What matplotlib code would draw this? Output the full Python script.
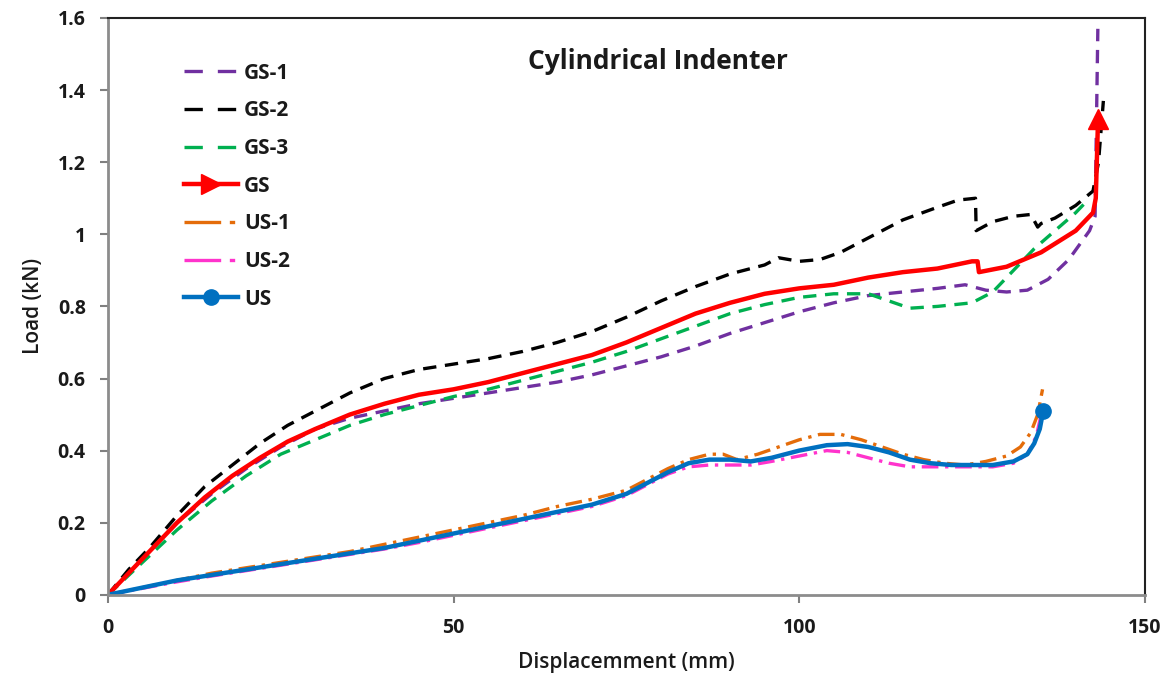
import matplotlib
matplotlib.use("Agg")
from matplotlib import pyplot as plt
from matplotlib.legend_handler import HandlerLine2D
import numpy as np

plt.rcParams['font.family'] = ['Open Sans', 'DejaVu Sans']

# GS-1
gs1_x = [0, 5, 10, 15, 20, 25, 30, 35, 40, 45, 50, 55, 60, 65, 70, 75, 80, 85, 90, 95,
         100, 105, 110, 115, 120, 124, 127, 130, 133, 136, 139, 142, 142.8, 143.2]
gs1_y = [0, 0.1, 0.2, 0.28, 0.35, 0.41, 0.46, 0.49, 0.51, 0.53, 0.545, 0.56, 0.575, 0.59,
         0.61, 0.635, 0.66, 0.69, 0.725, 0.755, 0.785, 0.81, 0.83, 0.84, 0.85, 0.86, 0.845,
         0.84, 0.845, 0.875, 0.93, 1.01, 1.05, 1.57]
# GS-2
gs2_x = [0, 3, 6, 10, 14, 18, 22, 26, 30, 35, 40, 45, 50, 55, 60, 65, 70, 75, 80, 85, 90,
         95, 97, 100, 103, 106, 110, 115, 120, 123, 125.5, 125.6, 128, 131, 133.5, 134.5,
         135, 137, 140, 142.5, 143.3, 144]
gs2_y = [0, 0.07, 0.13, 0.22, 0.3, 0.36, 0.42, 0.47, 0.51, 0.56, 0.6, 0.625, 0.64, 0.655,
         0.675, 0.7, 0.73, 0.77, 0.815, 0.855, 0.89, 0.915, 0.935, 0.925, 0.93, 0.95, 0.99,
         1.04, 1.075, 1.095, 1.10, 1.01, 1.035, 1.05, 1.055, 1.02, 1.03, 1.045, 1.08, 1.12,
         1.2, 1.37]
# GS-3
gs3_x = [0, 5, 10, 15, 20, 25, 30, 35, 40, 45, 50, 55, 60, 65, 70, 75, 80, 85, 90, 95, 100,
         105, 110, 113, 116, 120, 125, 128, 131, 134, 137, 140, 141.5]
gs3_y = [0, 0.09, 0.18, 0.26, 0.33, 0.39, 0.43, 0.47, 0.5, 0.525, 0.55, 0.57, 0.595, 0.62,
         0.645, 0.675, 0.71, 0.745, 0.78, 0.805, 0.825, 0.835, 0.835, 0.815, 0.795, 0.8,
         0.81, 0.84, 0.9, 0.96, 1.01, 1.06, 1.09]
# GS (average)
gs_x = [0, 3, 6, 10, 14, 18, 22, 26, 30, 35, 40, 45, 50, 55, 60, 65, 70, 75, 80, 85, 90,
        95, 100, 105, 110, 115, 120, 125, 125.8, 126, 130, 135, 140, 142.5, 142.9, 143.2]
gs_y = [0, 0.06, 0.12, 0.2, 0.27, 0.33, 0.38, 0.425, 0.46, 0.5, 0.53, 0.555, 0.57, 0.59,
        0.615, 0.64, 0.665, 0.7, 0.74, 0.78, 0.81, 0.835, 0.85, 0.86, 0.88, 0.895, 0.905,
        0.925, 0.925, 0.895, 0.91, 0.95, 1.01, 1.06, 1.1, 1.30]
# US-1
us1_x = [0, 5, 10, 15, 20, 25, 30, 35, 40, 45, 50, 55, 60, 65, 70, 75, 78, 81, 84, 87, 89,
         91, 94, 97, 100, 103, 106, 109, 112, 115, 118, 121, 124, 127, 130, 132, 133.5,
         134.5, 135.2]
us1_y = [0, 0.02, 0.04, 0.06, 0.075, 0.09, 0.105, 0.12, 0.14, 0.16, 0.18, 0.2, 0.22, 0.245,
         0.265, 0.29, 0.32, 0.35, 0.375, 0.39, 0.39, 0.375, 0.39, 0.41, 0.43, 0.445, 0.445,
         0.43, 0.41, 0.39, 0.375, 0.365, 0.36, 0.37, 0.385, 0.41, 0.45, 0.5, 0.57]
# US-2
us2_x = [0, 5, 10, 15, 20, 25, 30, 35, 40, 45, 50, 55, 60, 65, 70, 75, 78, 81, 84, 87, 90,
         93, 96, 100, 104, 107, 110, 113, 116, 120, 124, 128, 131, 133, 134.3, 135]
us2_y = [0, 0.018, 0.036, 0.052, 0.067, 0.082, 0.097, 0.112, 0.127, 0.145, 0.165, 0.185,
         0.205, 0.225, 0.245, 0.275, 0.305, 0.335, 0.355, 0.36, 0.36, 0.36, 0.37, 0.385, 0.4,
         0.395, 0.38, 0.365, 0.355, 0.355, 0.355, 0.355, 0.365, 0.39, 0.44, 0.5]
# US (average)
us_x = [0, 5, 10, 15, 20, 25, 30, 35, 40, 45, 50, 55, 60, 65, 70, 75, 78, 81, 84, 87, 90,
        93, 96, 100, 104, 107, 110, 113, 116, 119, 122, 125, 128, 131, 133, 134, 134.8, 135.3]
us_y = [0, 0.02, 0.04, 0.055, 0.07, 0.085, 0.1, 0.115, 0.13, 0.15, 0.17, 0.19, 0.21, 0.23,
        0.25, 0.28, 0.31, 0.34, 0.365, 0.375, 0.375, 0.37, 0.38, 0.4, 0.415, 0.418, 0.41,
        0.395, 0.375, 0.365, 0.36, 0.36, 0.36, 0.37, 0.39, 0.42, 0.46, 0.51]

x_ticks = [0, 50, 100, 150]
y_ticks = [0, 0.2, 0.4, 0.6, 0.8, 1, 1.2, 1.4, 1.6]
y_labels = ['0', '0.2', '0.4', '0.6', '0.8', '1', '1.2', '1.4', '1.6']


class EndMarkerHandler(HandlerLine2D):
    # put the legend marker at the right end of the handle
    def get_xdata(self, legend, xdescent, ydescent, width, height, fontsize):
        xdata = np.array([-xdescent, -xdescent + width])
        return xdata, np.array([-xdescent + width])


fig = plt.figure(figsize=(11.73, 6.79), dpi=100)
ax = fig.add_axes([0.092, 0.124, 0.884, 0.8495])

dash = (4, 2.6)
dashdot = (5, 2, 1, 2)
ax.plot(gs1_x, gs1_y, color='#7030A0', lw=2.4, dashes=dash)
ax.plot(gs2_x, gs2_y, color='black', lw=2.4, dashes=dash)
ax.plot(gs3_x, gs3_y, color='#00B050', lw=2.4, dashes=dash)
ax.plot(gs_x, gs_y, color='#FF0000', lw=3.2)
ax.plot(gs_x[-1], gs_y[-1] + 0.02, marker='^', ms=15, color='#FF0000', ls='none')
ax.plot(us1_x, us1_y, color='#E46C0A', lw=2.4, dashes=dashdot)
ax.plot(us2_x, us2_y, color='#FF33CC', lw=2.4, dashes=dashdot)
ax.plot(us_x, us_y, color='#0070C0', lw=3.2)
ax.plot(us_x[-1], us_y[-1], marker='o', ms=11, color='#0070C0', ls='none')

# legend handles with the arrow head and the end dot
leg_dash = (5.5, 4.5)
leg_dashdot = (11, 2.6, 1.6, 10)
h_gs1 = plt.Line2D([], [], color='#7030A0', lw=2.4, dashes=leg_dash)
h_gs2 = plt.Line2D([], [], color='black', lw=2.4, dashes=leg_dash)
h_gs3 = plt.Line2D([], [], color='#00B050', lw=2.4, dashes=leg_dash)
h_gs = plt.Line2D([], [], color='#FF0000', lw=3.2, marker='>', ms=14)
h_us1 = plt.Line2D([], [], color='#E46C0A', lw=2.4, dashes=leg_dashdot)
h_us2 = plt.Line2D([], [], color='#FF33CC', lw=2.4, dashes=leg_dashdot)
h_us = plt.Line2D([], [], color='#0070C0', lw=3.2, marker='o', ms=11)
handles = [h_gs1, h_gs2, h_gs3, h_gs, h_us1, h_us2, h_us]
names = ['GS-1', 'GS-2', 'GS-3', 'GS', 'US-1', 'US-2', 'US']
leg = ax.legend(handles, names, loc='upper left', bbox_to_anchor=(0.055, 0.955),
                frameon=False, handlelength=2.6, handletextpad=0.3, labelspacing=0.8,
                prop={'size': 15, 'weight': 'bold'},
                handler_map={h: EndMarkerHandler() for h in handles})
for t in leg.get_texts():
    t.set_color('#1a1a1a')

ax.set_xlim(0, 150)
ax.set_ylim(0, 1.6)
ax.set_xticks(x_ticks)
ax.set_yticks(y_ticks)
ax.set_yticklabels(y_labels)
ax.tick_params(axis='both', direction='out', length=6, color='#808080', width=1.5,
               labelsize=14, labelcolor='#1a1a1a', pad=10)
ax.tick_params(axis='x', pad=11)
for lab in ax.get_xticklabels() + ax.get_yticklabels():
    lab.set_fontweight('bold')
for s in ['left', 'bottom']:
    ax.spines[s].set_color('#8c8c8c')
    ax.spines[s].set_linewidth(2)
for s in ['top', 'right']:
    ax.spines[s].set_color('#222222')
    ax.spines[s].set_linewidth(1.5)

ax.text(0.53, 0.925, 'Cylindrical Indenter', transform=ax.transAxes, ha='center',
        va='center', fontsize=19, fontweight='bold', color='#1a1a1a')
ax.set_xlabel('Displacemment (mm)', fontsize=15, fontweight='semibold', labelpad=10,
              color='#1a1a1a')
ax.set_ylabel('Load (kN)', fontsize=15, fontweight='semibold', labelpad=10,
              color='#1a1a1a')

fig.savefig('out.png', dpi=100)
